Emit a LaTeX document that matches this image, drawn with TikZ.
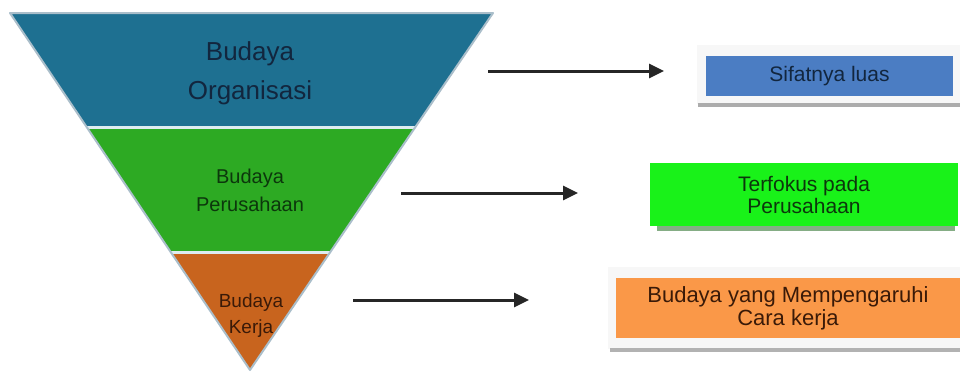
\documentclass[tikz,border=0pt]{standalone}
\usepackage{fontspec}
\setmainfont{Liberation Sans}
\usetikzlibrary{arrows.meta, positioning, calc}

\definecolor{orgblue}{RGB}{30,112,145}
\definecolor{pergreen}{RGB}{45,170,35}
\definecolor{kerorange}{RGB}{200,100,30}
\definecolor{rimblue}{RGB}{170,190,202}
\definecolor{gapblue}{RGB}{222,236,240}
\definecolor{luasblue}{RGB}{75,125,195}
\definecolor{fokusgreen}{RGB}{25,242,25}
\definecolor{caraorange}{RGB}{250,152,72}
\definecolor{navytxt}{RGB}{18,38,62}
\definecolor{greentxt}{RGB}{12,55,12}
\definecolor{browntxt}{RGB}{58,26,8}

\begin{document}
\begin{tikzpicture}[x=1pt, y=-1pt,
    lbl/.style={align=center, inner sep=0pt},
    sidebox/.style={inner sep=0pt, align=center},
    arr/.style={-{Triangle[length=15pt, width=14pt]}, line width=3pt, draw=black!85}
  ]
    \useasboundingbox (0,0) rectangle (960,372);

    % inverted pyramid
    \coordinate (tl) at (10,13);
    \coordinate (tr) at (493,13);
    \coordinate (ap) at (250,370);
    \coordinate (l1) at ($(tl)!0.3221!(ap)$);
    \coordinate (r1) at ($(tr)!0.3221!(ap)$);
    \coordinate (l2) at ($(tl)!0.6695!(ap)$);
    \coordinate (r2) at ($(tr)!0.6695!(ap)$);
    \fill[orgblue] (tl) -- (tr) -- (r1) -- (l1) -- cycle;
    \fill[pergreen] (l1) -- (r1) -- (r2) -- (l2) -- cycle;
    \fill[kerorange] (l2) -- (r2) -- (ap) -- cycle;
    \draw[gapblue, line width=3pt] (l1) -- (r1) (l2) -- (r2);
    \draw[rimblue, line width=2pt, line join=round] (tl) -- (tr) -- (ap) -- cycle;

    \node[lbl, text=navytxt, font=\fontsize{26}{39}\selectfont] (org) at (250,73) {Budaya\\Organisasi};
    \node[lbl, text=greentxt, font=\fontsize{20}{28}\selectfont] (per) at (250,190) {Budaya\\Perusahaan};
    \node[lbl, text=browntxt, font=\fontsize{19}{26}\selectfont] (ker) at (251,316) {Budaya\\Kerja};

    % boxes on the right
    \fill[gray!6] (697,45) rectangle (960,104);
    \fill[gray!65] (698,103) rectangle (960,107);
    \node[sidebox, fill=luasblue, minimum width=247pt, minimum height=40pt,
          text=navytxt, font=\fontsize{21}{22}\selectfont] (luas) at (829.5,76) {Sifatnya luas};

    \fill[green!20!gray!80] (657,226) rectangle (955,231);
    \node[sidebox, fill=fokusgreen, minimum width=308pt, minimum height=63pt,
          text=greentxt, font=\fontsize{21}{22}\selectfont] (fokus) at (804,194.5) {Terfokus pada\\Perusahaan};

    \fill[gray!6] (608,267) rectangle (960,349);
    \fill[gray!60] (610,348) rectangle (960,352);
    \node[sidebox, fill=caraorange, minimum width=344pt, minimum height=60pt,
          text=browntxt, font=\fontsize{22}{23}\selectfont] (cara) at (788,308) {Budaya yang Mempengaruhi\\Cara kerja};

    % arrows
    \coordinate (a1s) at (488,71);
    \coordinate (a1e) at (664,71);
    \coordinate (a2s) at (401,193);
    \coordinate (a2e) at (578,193);
    \coordinate (a3s) at (353,300);
    \coordinate (a3e) at (529,300);
    \draw[arr] (a1s) -- (a1e);
    \draw[arr] (a2s) -- (a2e);
    \draw[arr] (a3s) -- (a3e);
\end{tikzpicture}
\end{document}
